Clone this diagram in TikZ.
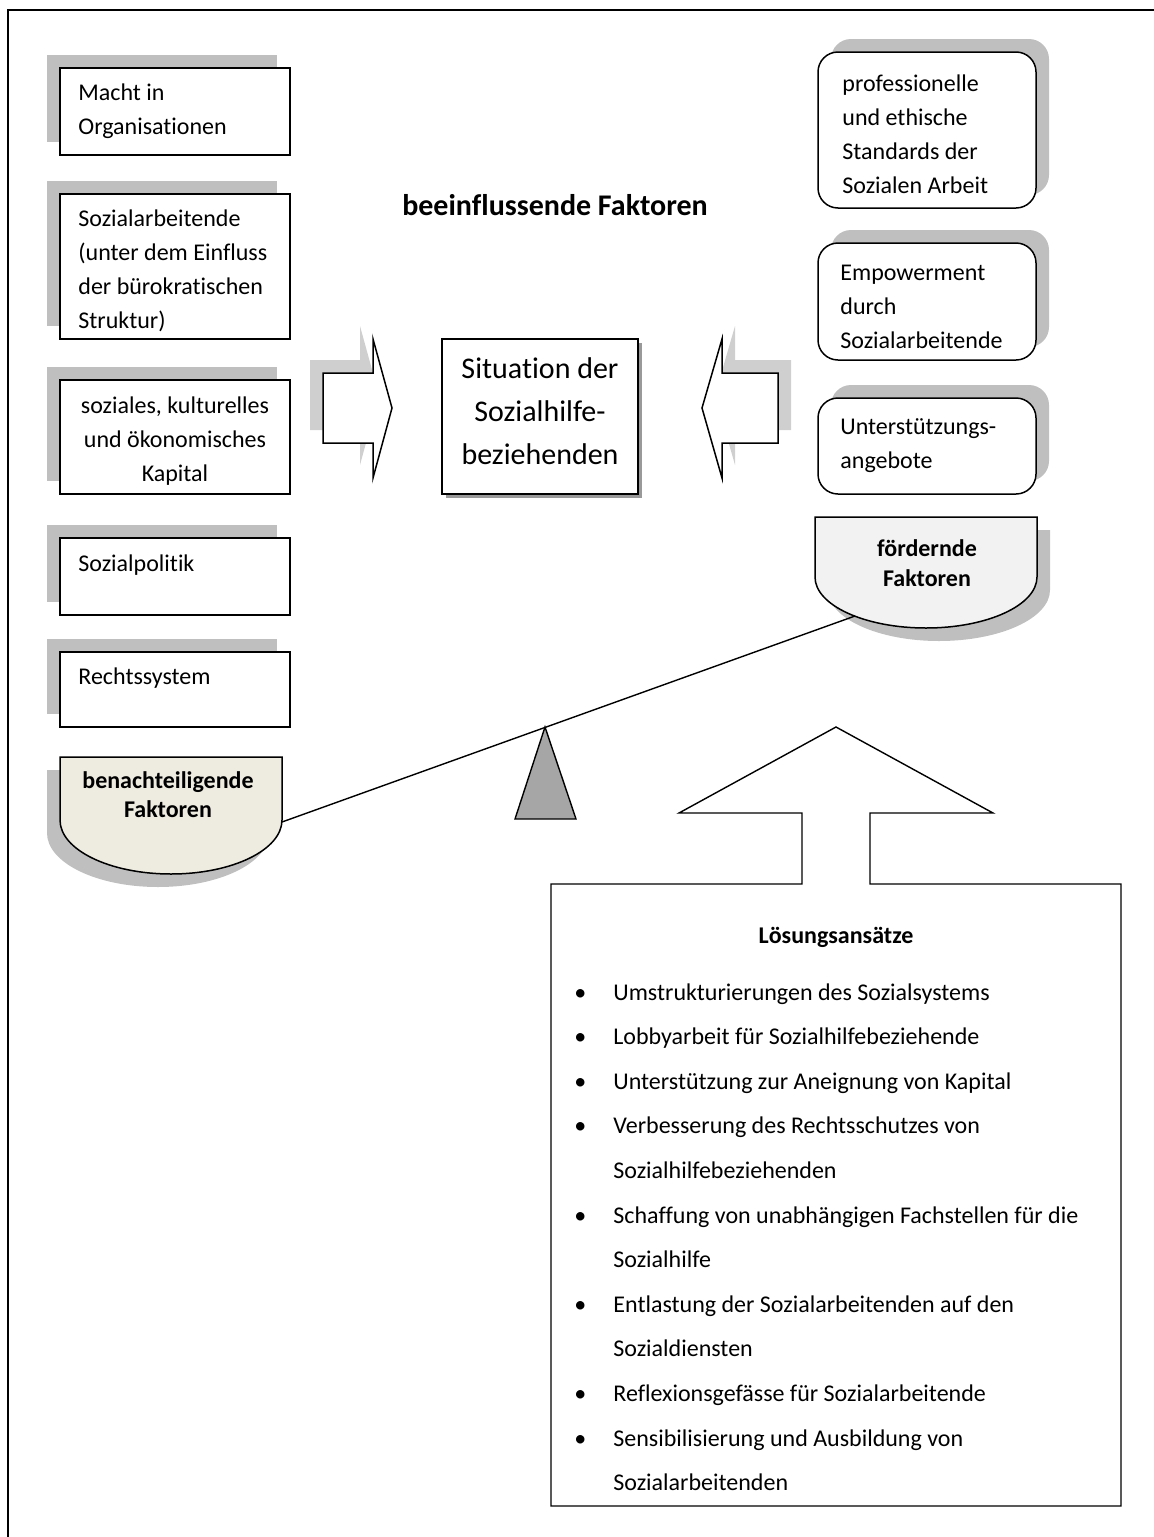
\documentclass[tikz,border=0pt]{standalone}
\usepackage{fontspec}
\setmainfont{Carlito}[Ligatures={NoCommon}]
\definecolor{shd}{HTML}{BFBFBF}
\definecolor{beige}{HTML}{EEECE1}
\definecolor{lgray}{HTML}{F2F2F2}
\definecolor{trigray}{HTML}{A6A6A6}
\definecolor{darkshd}{HTML}{808080}
\newcommand\bulitem{\makebox[20.5pt][l]{\hspace{1pt}•}}
\newcommand\bulcont{\hspace*{20.5pt}}
\begin{document}
\begin{tikzpicture}[x=0.5pt,y=-0.5pt,
  sbox/.style={draw, line width=0.75pt, fill=white, inner sep=0pt, minimum width=115pt},
  sshadow/.style={fill=shd, draw=none, inner sep=0pt, minimum width=115pt},
  rbox/.style={draw, line width=0.75pt, fill=white, inner sep=0pt, minimum width=109pt, rounded corners=10pt},
  rshadow/.style={fill=shd, draw=none, inner sep=0pt, minimum width=109pt, rounded corners=10pt},
  bodytext/.style={font=\fontsize{12}{17}\selectfont, inner sep=0pt, text width=150pt, align=flush left, anchor=base west},
  boldtext/.style={font=\bfseries\fontsize{12}{15}\selectfont, inner sep=0pt, text width=120pt, align=flush center, anchor=base},
  shapeline/.style={draw, line width=0.75pt},
  arrowshadow/.style={fill=shd!75, draw=none}
]
\useasboundingbox (0,0) rectangle (1153,1537);
% outer frame
\draw[line width=1.25pt] (8,1540) -- (8,10) -- (1156,10);

% left boxes with shadows
\node[sshadow, minimum height=43.5pt] (s1) at (162,98.5) {};
\node[sbox, minimum height=43.5pt] (b1) at (175,111.5) {};
\node[sshadow, minimum height=72.5pt] (s2) at (162,253.5) {};
\node[sbox, minimum height=72.5pt] (b2) at (175,266.5) {};
\node[sshadow, minimum height=57pt] (s3) at (162,424) {};
\node[sbox, minimum height=57pt] (b3) at (175,437) {};
\node[sshadow, minimum height=38.5pt] (s4) at (162,563.5) {};
\node[sbox, minimum height=38.5pt] (b4) at (175,576.5) {};
\node[sshadow, minimum height=37.5pt] (s5) at (162,676.5) {};
\node[sbox, minimum height=37.5pt] (b5) at (175,689.5) {};

\node[bodytext] (t1) at (78,100) {Macht in\\Organisationen};
\node[bodytext] (t2) at (78,226) {Sozialarbeitende\\(unter dem Einfluss\\der bürokratischen\\Struktur)};
\node[bodytext, align=flush center, text width=115pt, anchor=base] (t3) at (175,413) {soziales, kulturelles\\und ökonomisches\\Kapital};
\node[bodytext] (t4) at (78,571) {Sozialpolitik};
\node[bodytext] (t5) at (78,684) {Rechtssystem};

% right rounded boxes
\node[rshadow, minimum height=78pt] (rs1) at (940,117) {};
\node[rbox, minimum height=78pt] (r1) at (927,130) {};
\node[rshadow, minimum height=58.5pt] (rs2) at (940,288.5) {};
\node[rbox, minimum height=58.5pt] (r2) at (927,301.5) {};
\node[rshadow, minimum height=48pt] (rs3) at (940,433) {};
\node[rbox, minimum height=48pt] (r3) at (927,446) {};

\node[bodytext] (u1) at (842,91) {professionelle\\und ethische\\Standards der\\Sozialen Arbeit};
\node[bodytext] (u2) at (840,280) {Empowerment\\durch\\Sozialarbeitende};
\node[bodytext] (u3) at (840,434) {Unterstützungs-\\angebote};

% title
\node[font=\bfseries\fontsize{15}{18}\selectfont, inner sep=0pt, anchor=base] (title) at (555,215) {beeinflussende Faktoren};

% center box
\node[fill=darkshd, draw=none, inner sep=0pt, minimum width=98pt, minimum height=77.5pt, opacity=0.8] (cs) at (543.5,420) {};
\node[sbox, minimum width=98pt, minimum height=77.5pt] (c) at (540,416.5) {};
\node[font=\fontsize{15}{21.5}\selectfont, inner sep=0pt, text width=98pt, align=flush center, anchor=base] (ct) at (540,378) {Situation der\\Sozialhilfe-\\beziehenden};

% left arrow (pointing right) with shadow
\fill[arrowshadow] (310,360) -- (360,360) -- (360,326) -- (379,395) -- (360,465) -- (360,430) -- (310,430) -- cycle;
\draw[shapeline, fill=white] (323,373) -- (373,373) -- (373,339) -- (392,408) -- (373,478) -- (373,443) -- (323,443) -- cycle;

% right arrow (pointing left) with shadow
\fill[arrowshadow] (715,395) -- (735,326) -- (735,360) -- (791,360) -- (791,430) -- (735,430) -- (735,465) -- cycle;
\draw[shapeline, fill=white] (702,408) -- (722,339) -- (722,373) -- (778,373) -- (778,443) -- (722,443) -- (722,478) -- cycle;

% foerdernde Faktoren
\fill[shd] (828,530) -- (1050,530) -- (1050,590) arc[start angle=0, end angle=-180, x radius=55.5pt, y radius=25.5pt] -- cycle;
\draw[shapeline, fill=lgray] (815,517) -- (1037,517) -- (1037,577) arc[start angle=0, end angle=-180, x radius=55.5pt, y radius=25.5pt] -- cycle;
\node[boldtext] (fk) at (927,556) {fördernde\\Faktoren};

% benachteiligende Faktoren
\fill[shd] (47,770) -- (269,770) -- (269,833) arc[start angle=0, end angle=-180, x radius=55.5pt, y radius=27pt] -- cycle;
\draw[shapeline, fill=beige] (60,757) -- (282,757) -- (282,820) arc[start angle=0, end angle=-180, x radius=55.5pt, y radius=27pt] -- cycle;
\node[boldtext, font=\bfseries\fontsize{12}{14.5}\selectfont] (bk) at (168,788) {benachteiligende\\Faktoren};

% balance beam and fulcrum
\coordinate (beamL) at (282,822);
\coordinate (beamR) at (855,616);
\draw[line width=0.7pt] (beamL) -- (beamR);
\draw[line width=0.7pt, fill=trigray] (545,727) -- (576,819) -- (515,819) -- cycle;

% up arrow merged with solution box
\draw[line width=0.7pt] (551,884) -- (802,884) -- (802,813) -- (679,813) -- (836,727) -- (993,813) -- (870,813) -- (870,884) -- (1121,884) -- (1121,1506) -- (551,1506) -- cycle;

\node[font=\bfseries\fontsize{12}{15}\selectfont, inner sep=0pt, anchor=base] (lt) at (836,943) {Lösungsansätze};
\node[font=\fontsize{12}{22.3}\selectfont, inner sep=0pt, text width=270pt, align=flush left, anchor=base west] (list) at (572,1000) {%
\bulitem Umstrukturierungen des Sozialsystems\\
\bulitem Lobbyarbeit für Sozialhilfebeziehende\\
\bulitem Unterstützung zur Aneignung von Kapital\\
\bulitem Verbesserung des Rechtsschutzes von\\
\bulcont Sozialhilfebeziehenden\\
\bulitem Schaffung von unabhängigen Fachstellen für die\\
\bulcont Sozialhilfe\\
\bulitem Entlastung der Sozialarbeitenden auf den\\
\bulcont Sozialdiensten\\
\bulitem Reflexionsgefässe für Sozialarbeitende\\
\bulitem Sensibilisierung und Ausbildung von\\
\bulcont Sozialarbeitenden};
\end{tikzpicture}
\end{document}
